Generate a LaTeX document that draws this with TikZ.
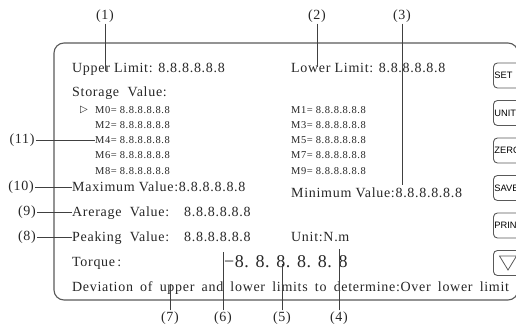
\documentclass[tikz,border=0pt]{standalone}
\usepackage{fontspec}
\setmainfont{Liberation Serif}[LetterSpace=5]
\newfontfamily\keyfont{Liberation Sans}
\newfontfamily\symfont{DejaVu Sans}
\usetikzlibrary{positioning}
\definecolor{frameLine}{gray}{0.35}
\definecolor{leadLine}{gray}{0.25}
\definecolor{textInk}{gray}{0.15}

\begin{document}
\begin{tikzpicture}[
	x=1pt, y=-1pt,
	panel/.style={draw=frameLine, line width=1.1pt, rounded corners=10pt},
	key/.style={draw=frameLine, line width=0.9pt, rounded corners=4pt,
		minimum height=25pt, text width=36pt, inner xsep=1pt, align=left,
		anchor=west, font=\keyfont\fontsize{9.3}{9.3}\selectfont},
	txt/.style={anchor=base west, inner sep=0pt, text=textInk,
		font=\fontsize{14}{14}\selectfont},
	mem/.style={anchor=base west, inner sep=0pt, text=textInk,
		font=\fontsize{10.5}{10.5}\selectfont},
	tag/.style={inner sep=1pt, text=textInk, font=\fontsize{14}{14}\selectfont},
	lead/.style={draw=leadLine, line width=0.8pt},
	]
	\useasboundingbox (0,0) rectangle (516,328);
	\clip (0,0) rectangle (516,328);
	
	% panel and keys
	\draw [panel] (54,43) rectangle (518,300);
	\node [key] (set) at (493,75.5) {SET};
	\node [key] (unit) at (493,113) {UNIT};
	\node [key] (zero) at (493,150.5) {ZERO};
	\node [key] (save) at (493,188) {SAVE};
	\node [key] (print) at (493,225.5) {PRINT};
	\node [key] (down) at (493,263) {};
	\draw [frameLine, line width=0.8pt] (499.5,256) -- (516.5,256) -- (508,270) -- cycle;
	
	% display texts
	\node [txt] (upper) at (72,73) {Upper Limit: 8.8.8.8.8.8};
	\node [txt] (lower) at (291,73) {Lower Limit: 8.8.8.8.8.8};
	\node [txt] (store) at (72,97) {Storage\ \ Value:};
	\node [txt, anchor=center, font=\symfont\fontsize{10}{10}\selectfont] (mark) at (84,110) {▷};
	\node [mem] (m0) at (95,114) {M0= 8.8.8.8.8.8};
	\node [mem] (m2) at (95,129) {M2= 8.8.8.8.8.8};
	\node [mem] (m4) at (95,144) {M4= 8.8.8.8.8.8};
	\node [mem] (m6) at (95,159) {M6= 8.8.8.8.8.8};
	\node [mem] (m8) at (95,174.5) {M8= 8.8.8.8.8.8};
	\node [mem] (m1) at (291,114) {M1= 8.8.8.8.8.8};
	\node [mem] (m3) at (291,129) {M3= 8.8.8.8.8.8};
	\node [mem] (m5) at (291,144) {M5= 8.8.8.8.8.8};
	\node [mem] (m7) at (291,159) {M7= 8.8.8.8.8.8};
	\node [mem] (m9) at (291,174.5) {M9= 8.8.8.8.8.8};
	\node [txt] (maxv) at (72,191.5) {Maximum Value:8.8.8.8.8.8};
	\node [txt] (minv) at (291,198) {Minimum Value:8.8.8.8.8.8};
	\node [txt] (avgv) at (72,216.5) {Arerage\ \ Value:\hspace{15pt}8.8.8.8.8.8};
	\node [txt] (peak) at (72,241.5) {Peaking\ \ Value:\hspace{15pt}8.8.8.8.8.8};
	\node [txt] (unitv) at (291,241.5) {Unit:N.m};
	\node [txt] (torq) at (72,266.5) {Torque\,:};
	\node [txt, font=\fontsize{18}{18}\selectfont\addfontfeature{LetterSpace=3}] (digits) at (224,268) {−8. 8. 8. 8. 8. 8};
	\node [txt] (devi) at (72,291) {\spaceskip=7.2pt\relax Deviation of upper and lower limits to determine:Over lower limit};
	
	% callout numbers
	\node [tag] (l1) at (105,16) {(1)};
	\node [tag] (l2) at (317,16) {(2)};
	\node [tag] (l3) at (402,16) {(3)};
	\node [tag] (l11) at (22,140) {(11)};
	\node [tag] (l10) at (21,187) {(10)};
	\node [tag] (l9) at (27,212) {(9)};
	\node [tag] (l8) at (27,237) {(8)};
	\node [tag] (l7) at (170,318) {(7)};
	\node [tag] (l6) at (223,318) {(6)};
	\node [tag] (l5) at (282,318) {(5)};
	\node [tag] (l4) at (339,318) {(4)};
	
	\coordinate (p1) at (105,71);
	\coordinate (p2) at (317,67);
	\coordinate (p3) at (402,185);
	\coordinate (p7) at (170,284);
	\coordinate (p6) at (223,252);
	\coordinate (p5) at (282,264);
	\coordinate (p4) at (339,249);
	
	% leader lines
	\draw [lead] (l1) -- (p1);
	\draw [lead] (l2) -- (p2);
	\draw [lead] (l3) -- (p3);
	\draw [lead] (l7) -- (p7);
	\draw [lead] (l6) -- (p6);
	\draw [lead] (l5) -- (p5);
	\draw [lead] (l4) -- (p4);
	\draw [lead] (l11.east) -- (l11.east -| m4.west);
	\draw [lead] (l10.east) -- (l10.east -| maxv.west);
	\draw [lead] (l9.east) -- (l9.east -| avgv.west);
	\draw [lead] (l8.east) -- (l8.east -| peak.west);
\end{tikzpicture}
\end{document}
